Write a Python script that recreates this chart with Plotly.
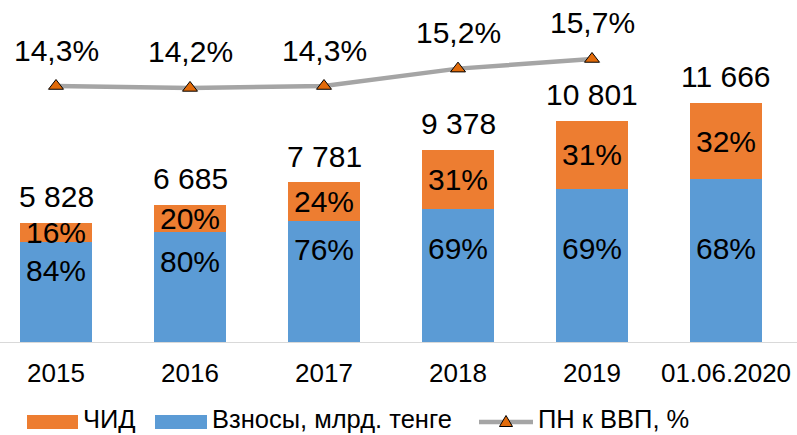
import plotly.graph_objects as go

categories = ["2015", "2016", "2017", "2018", "2019", "01.06.2020"]
contributions = [4896, 5348, 5914, 6471, 7453, 7933]   # Взносы, млрд. тенге
income = [932, 1337, 1867, 2907, 3348, 3733]             # ЧИД
totals = [5828, 6685, 7781, 9378, 10801, 11666]
contrib_pct = ["84%", "80%", "76%", "69%", "69%", "68%"]
income_pct = ["16%", "20%", "24%", "31%", "31%", "32%"]
line_cats = ["2015", "2016", "2017", "2018", "2019"]
pn_gdp = [14.3, 14.2, 14.3, 15.2, 15.7]                  # ПН к ВВП, %

ORANGE = "#ED7D31"
BLUE = "#5B9BD5"
GRAY = "#A5A5A5"
MARK = "#E26B0A"
FONT = "Liberation Sans, Arial, sans-serif"
W, H = 797, 435
PLOT_BOTTOM = 342  # px from top

fig = go.Figure()
fig.add_trace(go.Bar(
    x=categories, y=contributions, name="Взносы, млрд. тенге",
    marker=dict(color=BLUE, line=dict(width=0)), showlegend=False,
    hoverinfo="skip",
))
fig.add_trace(go.Bar(
    x=categories, y=income, name="ЧИД",
    marker=dict(color=ORANGE, line=dict(width=0)), showlegend=False,
    text=income_pct, textposition="inside", insidetextanchor="middle",
    constraintext="none", textangle=0,
    insidetextfont=dict(family=FONT, size=30, color="black"),
    hoverinfo="skip",
))
fig.add_trace(go.Scatter(
    x=line_cats, y=pn_gdp, yaxis="y2", mode="lines+markers",
    name="ПН к ВВП, %", showlegend=False,
    line=dict(color=GRAY, width=4.5),
    marker=dict(symbol="triangle-up", size=13, color=MARK,
                line=dict(color="black", width=1)),
    hoverinfo="skip",
))

cat_index = {c: i for i, c in enumerate(categories)}
annotations = []
# blue segment labels
label_cap = 6000
for c, v, t in zip(categories, contributions, contrib_pct):
    annotations.append(dict(x=cat_index[c], y=min(v, label_cap), xref="x", yref="y",
                            text=t, showarrow=False, yshift=-29,
                            font=dict(family=FONT, size=30, color="black")))
# totals
for c, v in zip(categories, totals):
    annotations.append(dict(x=cat_index[c], y=v, xref="x", yref="y",
                            text=f"{v:,}".replace(",", " "),
                            showarrow=False, yshift=26,
                            font=dict(family=FONT, size=30, color="black")))
# line labels
for c, v in zip(line_cats, pn_gdp):
    annotations.append(dict(x=cat_index[c], y=v, xref="x", yref="y2",
                            text=f"{v:.1f}%".replace(".", ","),
                            showarrow=False, yshift=36,
                            font=dict(family=FONT, size=30, color="black")))

# manual legend (paper coords)
def px(x):
    return x / W

def py(y):
    return (PLOT_BOTTOM - y) / PLOT_BOTTOM

shapes = []
ly = 422
shapes.append(dict(type="rect", xref="paper", yref="paper", x0=px(27), x1=px(78),
                   y0=py(ly + 7), y1=py(ly - 7), fillcolor=ORANGE, line=dict(width=0)))
shapes.append(dict(type="rect", xref="paper", yref="paper", x0=px(155), x1=px(207),
                   y0=py(ly + 7), y1=py(ly - 7), fillcolor=BLUE, line=dict(width=0)))
shapes.append(dict(type="line", xref="paper", yref="paper", x0=px(479), x1=px(533),
                   y0=py(ly), y1=py(ly), line=dict(color=GRAY, width=4.5)))
tri = (f"M {px(499.5)},{py(ly+4.5)} L {px(512.5)},{py(ly+4.5)} "
       f"L {px(506)},{py(ly-6.5)} Z")
shapes.append(dict(type="path", xref="paper", yref="paper", path=tri,
                   fillcolor=MARK, line=dict(color="black", width=1)))
for x0, txt in [(82, "ЧИД"), (211, "Взносы, млрд. тенге"), (537, "ПН к ВВП, %")]:
    annotations.append(dict(x=px(x0), y=py(419), xref="paper", yref="paper",
                            xanchor="left", yanchor="middle", text=txt,
                            showarrow=False, borderpad=0,
                            font=dict(family=FONT, size=25.5, color="black")))

px_per_unit = 0.0205
y_max = PLOT_BOTTOM / px_per_unit
y2_px = 19.3
y2_lo = 14.3 - (PLOT_BOTTOM - 86) / y2_px
y2_hi = 14.3 + 86 / y2_px

fig.update_layout(
    width=W, height=H,
    margin=dict(l=0, r=0, t=0, b=H - PLOT_BOTTOM),
    paper_bgcolor="white", plot_bgcolor="white",
    barmode="stack", bargap=0.463,
    font=dict(family=FONT, color="black"),
    showlegend=False,
    xaxis=dict(type="category", range=[-56 / 134, (W - 56) / 134],
               showline=True, linecolor="#D9D9D9", linewidth=1,
               showgrid=False, zeroline=False, ticks="",
               tickfont=dict(family=FONT, size=26, color="black"),
               ticklabelstandoff=8),
    yaxis=dict(range=[0, y_max], visible=False, showgrid=False, zeroline=False),
    yaxis2=dict(range=[y2_lo, y2_hi], overlaying="y", side="right",
                visible=False, showgrid=False, zeroline=False),
    annotations=annotations,
    shapes=shapes,
)

fig.write_html("out.html",
               config={"displayModeBar": False},
               post_script="document.body.style.margin='0';document.body.style.padding='0';")
